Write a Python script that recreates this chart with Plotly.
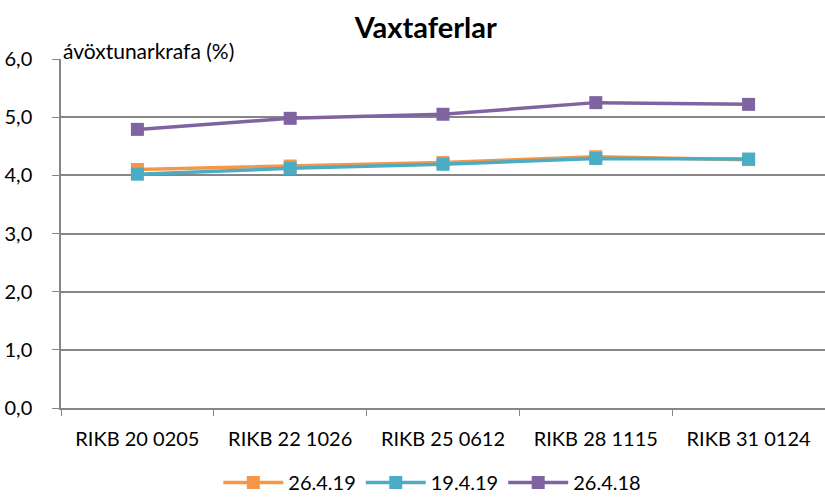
import plotly.graph_objects as go

categories = ["RIKB 20 0205", "RIKB 22 1026", "RIKB 25 0612", "RIKB 28 1115", "RIKB 31 0124"]
s_26_4_19 = [4.10, 4.16, 4.22, 4.32, 4.27]
s_19_4_19 = [4.02, 4.12, 4.19, 4.29, 4.28]
s_26_4_18 = [4.79, 4.98, 5.05, 5.25, 5.22]
series_names = ["26.4.19", "19.4.19", "26.4.18"]
colors = ["#F79646", "#4BACC6", "#8064A2"]

FONT = "Lato, Open Sans, sans-serif"

fig = go.Figure()
for name, vals, c in zip(series_names, [s_26_4_19, s_19_4_19, s_26_4_18], colors):
    fig.add_trace(go.Scatter(
        x=categories, y=vals, name=name, mode="lines+markers",
        line=dict(color=c, width=3.5),
        marker=dict(symbol="square", size=13, color=c),
    ))

fig.update_layout(
    width=825, height=499,
    margin=dict(l=61, r=0, t=59, b=91),
    paper_bgcolor="white", plot_bgcolor="white",
    font=dict(family=FONT, size=20, color="#000000"),
    separators=",.",
    title=dict(text="<b>Vaxtaferlar</b>", x=0.516, xanchor="center", y=0.944, yanchor="middle",
               font=dict(size=29, family=FONT)),
    showlegend=True,
    legend=dict(orientation="h", xref="container", yref="container",
                x=0.524, xanchor="center", y=0.033, yanchor="middle",
                font=dict(size=20), itemwidth=60),
)
fig.update_yaxes(range=[0, 6], dtick=1, tickformat=".1f", showgrid=True, gridcolor="#868686",
                 gridwidth=1.5, showline=True, linecolor="#868686", linewidth=1.5,
                 ticks="outside", ticklen=7, tickcolor="#868686", zeroline=False,
                 automargin=False, tickfont=dict(size=20), ticklabelstandoff=16)
fig.update_xaxes(range=[-0.5, 4.5], showgrid=False, showline=True, linecolor="#868686", linewidth=1.5,
                 ticks="outside", ticklen=6, tickcolor="#868686", tickson="boundaries",
                 automargin=False, tickfont=dict(size=20), ticklabelstandoff=12)
fig.add_annotation(text="ávöxtunarkrafa (%)", xref="paper", yref="paper", x=0.0, y=1.0,
                   xanchor="left", yanchor="bottom", showarrow=False, font=dict(size=21), yshift=-6)

fig.write_html("out.html", config={"displayModeBar": False},
               post_script="document.body.style.margin='0';")
